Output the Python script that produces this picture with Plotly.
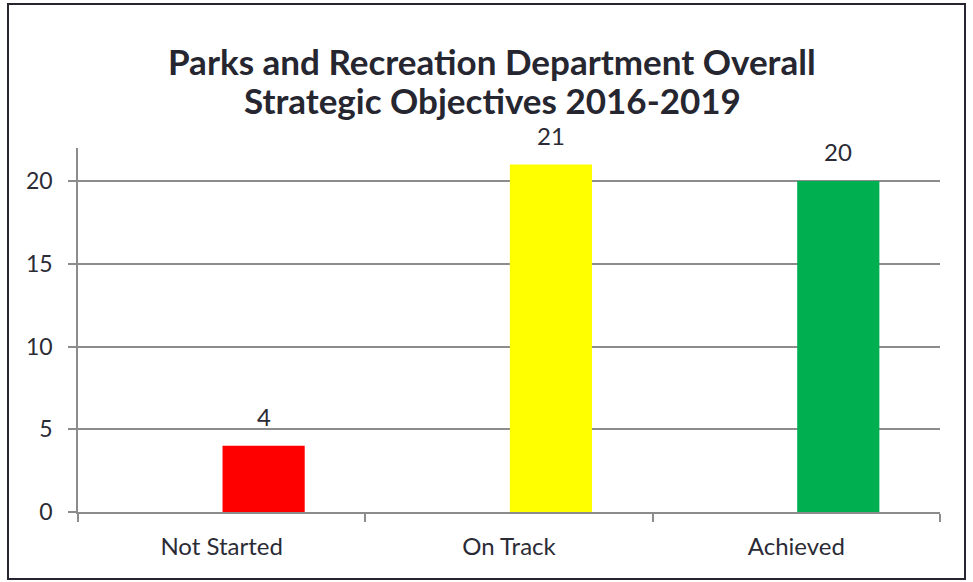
import plotly.graph_objects as go

categories = ["Not Started", "On Track", "Achieved"]
values = [4, 21, 20]
colors = ["#FF0000", "#FFFF00", "#00B050"]
y_ticks = [0, 5, 10, 15, 20]
title_lines = ["Parks and Recreation Department Overall", "Strategic Objectives 2016-2019"]

W, H = 973, 582
ml, mr, mt, mb = 78, 33, 148, 70
pw, ph = W - ml - mr, H - mt - mb
FONT = "Lato, Carlito, sans-serif"
TXT = "#2b2b36"
GRID = "#8c8c8c"

fig = go.Figure(go.Bar(
    x=categories, y=values, marker=dict(color=colors, line=dict(width=0)),
    width=0.286, offset=0.003, hoverinfo="x+y",
))

# value labels above the bars
for c, v in zip(categories, values):
    fig.add_annotation(x=c, y=v, text=str(v), showarrow=False, xanchor="center", yanchor="bottom",
                       xshift=42, yshift=13, font=dict(size=24, color=TXT, family=FONT))

def px2paper_x(px):
    return (px - ml) / pw

def px2paper_y(py):
    return (H - mb - py) / ph

fig.add_shape(type="rect", xref="paper", yref="paper",
              x0=px2paper_x(8), x1=px2paper_x(965), y0=px2paper_y(579), y1=px2paper_y(4),
              line=dict(color="#262630", width=2), fillcolor="rgba(0,0,0,0)", layer="above")

for line, ypx in zip(title_lines, [61, 100]):
    fig.add_annotation(text="<b>%s</b>" % line, xref="paper", yref="paper",
                       x=px2paper_x(492), y=px2paper_y(ypx), xanchor="center", yanchor="middle",
                       showarrow=False, font=dict(size=35, color="#262630", family=FONT))

fig.update_layout(
    width=W, height=H, margin=dict(l=ml, r=mr, t=mt, b=mb, autoexpand=False),
    paper_bgcolor="white", plot_bgcolor="white",
    font=dict(family=FONT, color=TXT),
    showlegend=False,
)
fig.update_xaxes(showline=True, linecolor=GRID, linewidth=1.5,
                 ticks="outside", tickson="boundaries", ticklen=8, tickcolor=GRID, tickwidth=1.5,
                 tickfont=dict(size=24, color=TXT), showgrid=False, ticklabelstandoff=12)
fig.update_yaxes(range=[0, 22], tickvals=y_ticks, showline=True, linecolor=GRID, linewidth=1.5,
                 ticks="outside", ticklen=8, tickcolor=GRID, tickwidth=1.5,
                 showgrid=True, gridcolor=GRID, gridwidth=1.5, zeroline=False,
                 tickfont=dict(size=23, color=TXT), ticklabelstandoff=11)

fig.write_html("out.html", config={"displayModeBar": False},
               post_script="document.body.style.margin='0';document.body.style.overflow='hidden';")
